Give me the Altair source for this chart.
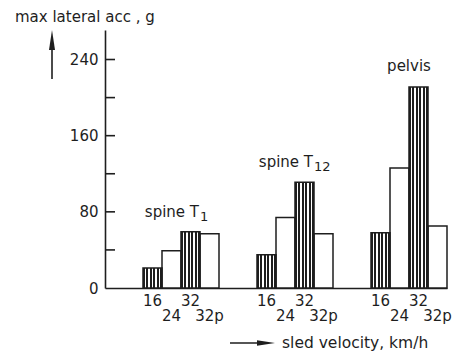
import altair as alt
import pandas as pd

# ---- data ----
groups = ["spine T1", "spine T12", "pelvis"]
speeds = ["16", "24", "32", "32p"]
spine_t1 = [21, 39, 59, 57]
spine_t12 = [35, 74, 111, 57]
pelvis = [58, 126, 211, 65]
hatched_speeds = ["16", "32"]
raised_labels = ["16", "32"]
label_main = ["spine T", "spine T", "pelvis"]
label_sub = ["1", "12", ""]
y_tick_marks = [40, 80, 120, 160, 200, 240]
y_tick_labels = [0, 80, 160, 240]
y_title = "max lateral acc , g"
x_title = "sled velocity, km/h"

INK = "#1e1e1e"
FONT = "DejaVu Sans, sans-serif"
W, H = 342, 258

rows = []
for g, vals in zip(groups, [spine_t1, spine_t12, pelvis]):
    for s, v in zip(speeds, vals):
        rows.append({"group": g, "speed": s, "acc": v,
                     "hatched": s in hatched_speeds, "raised": s in raised_labels})
df = pd.DataFrame(rows)

ann = pd.DataFrame({
    "group": groups,
    "acc": [max(v) for v in [spine_t1, spine_t12, pelvis]],
    "main": label_main,
    "sub": label_sub,
})
ticks_df = pd.DataFrame({"acc": y_tick_marks})
one = pd.DataFrame({"k": [0]})

x_enc = alt.X("group:N", sort=groups,
              scale=alt.Scale(paddingInner=1/3, paddingOuter=1/6, align=1),
              axis=alt.Axis(labels=False, ticks=False, title=None, grid=False,
                            domainColor=INK, domainWidth=1.6))
xo_enc = alt.XOffset("speed:N", sort=speeds,
                     scale=alt.Scale(paddingInner=0, paddingOuter=0))
y_enc = alt.Y("acc:Q", scale=alt.Scale(domain=[0, 271], nice=False, zero=True),
              axis=alt.Axis(values=y_tick_labels, tickSize=0, labelPadding=7, grid=False,
                            title=None, domainColor=INK, domainWidth=1.6,
                            labelFont=FONT, labelFontSize=15, labelColor=INK))

# stripe gradient (styling)
stops = []
n_dark, d, w = 6, 0.1, 0.08
pos = 0.0
for i in range(n_dark):
    stops.append(alt.GradientStop(offset=pos, color=INK))
    stops.append(alt.GradientStop(offset=min(pos + d, 1.0), color=INK))
    if i < n_dark - 1:
        stops.append(alt.GradientStop(offset=pos + d, color="white"))
        stops.append(alt.GradientStop(offset=pos + d + w, color="white"))
    pos += d + w
stripes = alt.Gradient(gradient="linear", stops=stops, x1=0, x2=1, y1=0, y2=0)

base = alt.Chart(df)

white_bars = base.transform_filter("!datum.hatched").mark_bar(
    fill="white", stroke=INK, strokeWidth=1.5
).encode(x=x_enc, xOffset=xo_enc, y=y_enc)

hatch_bars = base.transform_filter("datum.hatched").mark_bar(
    fill=stripes, stroke=INK, strokeWidth=1.5
).encode(x=x_enc, xOffset=xo_enc, y=y_enc)

lab_up = base.transform_filter("datum.raised").mark_text(
    font=FONT, fontSize=15, color=INK, baseline="middle", align="center"
).encode(x=x_enc, xOffset=xo_enc, y=alt.value(H + 13), text="speed:N")

lab_down = base.transform_filter("!datum.raised").mark_text(
    font=FONT, fontSize=15, color=INK, baseline="middle", align="center"
).encode(x=x_enc, xOffset=xo_enc, y=alt.value(H + 28), text="speed:N")

ann_base = alt.Chart(ann)
ann_main_sub = ann_base.transform_filter("datum.sub != ''").mark_text(
    font=FONT, fontSize=15, color=INK, baseline="middle", align="right", dx=18, dy=-20
).encode(x=x_enc, y=y_enc, text="main:N")
ann_sub = ann_base.transform_filter("datum.sub != ''").mark_text(
    font=FONT, fontSize=13, color=INK, baseline="middle", align="left", dx=19, dy=-15
).encode(x=x_enc, y=y_enc, text="sub:N")
ann_plain = ann_base.transform_filter("datum.sub == ''").mark_text(
    font=FONT, fontSize=15, color=INK, baseline="middle", align="center", dy=-21
).encode(x=x_enc, y=y_enc, text="main:N")

ytick_rules = alt.Chart(ticks_df).mark_rule(color=INK, strokeWidth=1.6).encode(
    y=y_enc, x=alt.value(0), x2=alt.value(10))

# axis titles with arrows
ytitle = alt.Chart(one).mark_text(
    font=FONT, fontSize=15, color=INK, align="left", baseline="middle", text=y_title
).encode(x=alt.value(-90), y=alt.value(-13))
yshaft = alt.Chart(one).mark_rule(color=INK, strokeWidth=1.6).encode(
    x=alt.value(-53), y=alt.value(49), y2=alt.value(16))
yhead = alt.Chart(one).mark_point(
    shape="M0,-1L0.3,1L-0.3,1Z", filled=True, color=INK, opacity=1, size=400
).encode(x=alt.value(-53), y=alt.value(10))

xtitle = alt.Chart(one).mark_text(
    font=FONT, fontSize=15.5, color=INK, align="left", baseline="middle", text=x_title
).encode(x=alt.value(177), y=alt.value(313))
xshaft = alt.Chart(one).mark_rule(color=INK, strokeWidth=1.6).encode(
    x=alt.value(125), x2=alt.value(158), y=alt.value(313))
xhead = alt.Chart(one).mark_point(
    shape="M1,0L-1,0.3L-1,-0.3Z", filled=True, color=INK, opacity=1, size=324
).encode(x=alt.value(161), y=alt.value(313))

chart = alt.layer(
    white_bars, hatch_bars, ytick_rules, lab_up, lab_down,
    ann_main_sub, ann_sub, ann_plain,
    ytitle, yshaft, yhead, xtitle, xshaft, xhead,
).properties(
    width=W, height=H,
    padding={"left": 105, "top": 30, "right": 11, "bottom": 67},
    autosize=alt.AutoSizeParams(type="none"),
    background="white",
).configure_view(stroke=None)

chart.save("out.html", embed_options={"renderer": "svg", "actions": False})
